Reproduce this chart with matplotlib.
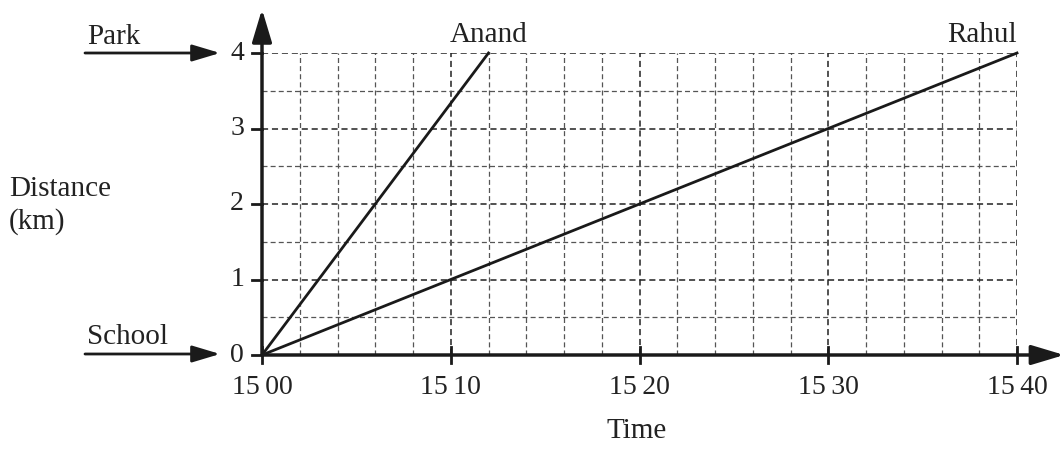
import matplotlib.pyplot as plt
import numpy as np

plt.rcParams['font.family'] = ['Liberation Serif', 'DejaVu Serif']

# minutes after 15 00, distance in km
anand_time = [0, 12]
anand_dist = [0, 4]
rahul_time = [0, 40]
rahul_dist = [0, 4]

xtick_vals = [0, 10, 20, 30, 40]
xtick_labels = ["15\u200900", "15\u200910", "15\u200920", "15\u200930", "15\u200940"]
ytick_vals = [0, 1, 2, 3, 4]

W, H = 1061, 453
fig = plt.figure(figsize=(W / 100, H / 100), dpi=100)
ax = fig.add_axes([262 / W, 1 - 355 / H, (1017 - 262) / W, (355 - 53) / H])
ax.set_xlim(0, 40)
ax.set_ylim(0, 4)
ax.axis("off")

# grid
for x in np.arange(2, 41, 2):
    major = x % 10 == 0
    ax.plot([x, x], [0, 4], color="#222" if major else "#555", lw=1.1 if major else 0.9,
            ls=(0, (4, 2.5)), zorder=1)
for y in np.arange(0.5, 4.01, 0.5):
    major = y % 1 == 0
    ax.plot([0, 40], [y, y], color="#222" if major else "#555", lw=1.1 if major else 0.9,
            ls=(0, (4, 2.5)), zorder=1)

# lines
ax.plot(anand_time, anand_dist, color="#1a1a1a", lw=2, zorder=3, clip_on=False)
ax.plot(rahul_time, rahul_dist, color="#1a1a1a", lw=2, zorder=3, clip_on=False)

# axes with arrows
arrow = dict(arrowstyle="-|>,head_length=1.0,head_width=0.3", color="#1a1a1a", lw=2.5,
             mutation_scale=20, shrinkA=0, shrinkB=0)
ax.annotate("", xy=(42.5, 0), xytext=(0, 0), arrowprops=arrow, annotation_clip=False, zorder=4)
ax.annotate("", xy=(0, 4.58), xytext=(0, 0), arrowprops=arrow, annotation_clip=False, zorder=4)

# ticks
for x, lab in zip(xtick_vals, xtick_labels):
    ax.plot([x, x], [-0.1, 0.1], color="#1a1a1a", lw=2, clip_on=False, zorder=4)
    ax.text(x, -0.26, lab, ha="center", va="top", fontsize=20, color="#222")
for y in ytick_vals:
    ax.plot([-0.55, 0], [y, y], color="#1a1a1a", lw=2, clip_on=False, zorder=4)
    ax.text(-0.95, y, str(y), ha="right", va="center", fontsize=20, color="#222")

# line labels
ax.text(12, 4.07, "Anand", ha="center", va="bottom", fontsize=21, color="#222")
ax.text(40, 4.07, "Rahul", ha="right", va="bottom", fontsize=21, color="#222")

# side labels
def fx(px):
    return px / W

def fy(py):
    return 1 - py / H

fig.text(fx(87), fy(37), "Park", ha="left", va="center", fontsize=21, color="#222")
fig.text(fx(87), fy(337), "School", ha="left", va="center", fontsize=21, color="#222")
fig.text(fx(9), fy(189), "Distance", ha="left", va="center", fontsize=21, color="#222")
fig.text(fx(9), fy(222), "(km)", ha="left", va="center", fontsize=21, color="#222")
fig.text(fx(637), fy(431), "Time", ha="center", va="center", fontsize=21, color="#222")

side_arrow = dict(arrowstyle="-|>,head_length=1.0,head_width=0.3", color="#1a1a1a", lw=2,
                  mutation_scale=17, shrinkA=0, shrinkB=0)
for py in (53, 354):
    ax.annotate("", xy=(fx(220), fy(py)), xytext=(fx(85), fy(py)), xycoords="figure fraction",
                textcoords="figure fraction", arrowprops=side_arrow, annotation_clip=False)

fig.savefig("out.png", dpi=100)
